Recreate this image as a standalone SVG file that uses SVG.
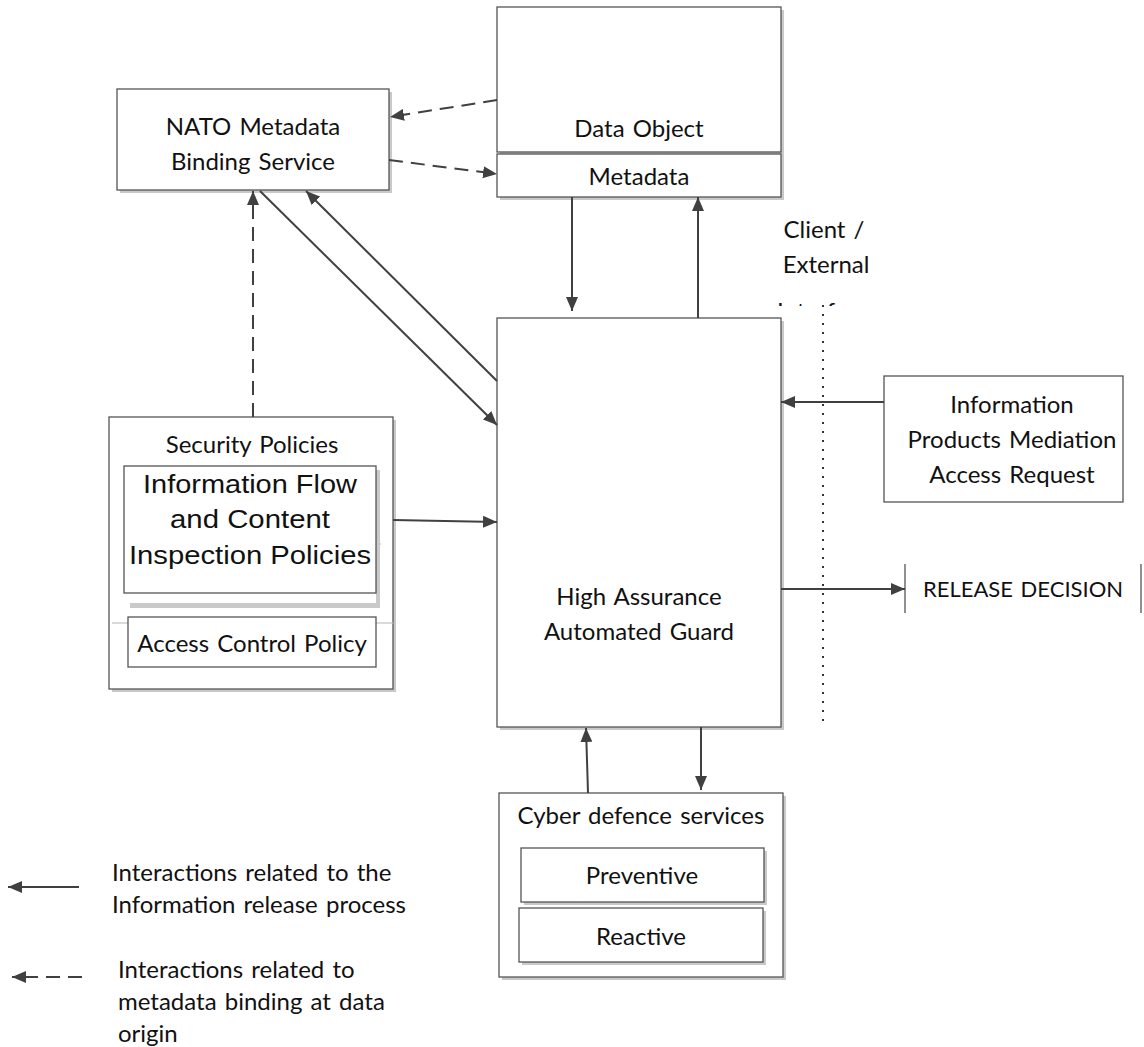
<svg xmlns="http://www.w3.org/2000/svg" width="1144" height="1047" viewBox="0 0 1144 1047">
<style>
.box{fill:#fff;stroke:#555;stroke-width:1.3}
.sh{fill:#c9c9c9;stroke:none}
.t{font-family:Lato,"Open Sans",sans-serif;font-size:24px;word-spacing:2px;fill:#111;text-anchor:middle}
.ta{font-family:"Liberation Sans",Arial,sans-serif;font-size:26px;fill:#111;text-anchor:middle}
.c{fill:none;stroke:#404040;stroke-width:2}
.d{fill:none;stroke:#404040;stroke-width:2;stroke-dasharray:14 8}
</style>
<defs>
<marker id="ah" viewBox="0 0 14 12" refX="14" refY="6" markerWidth="14" markerHeight="12" markerUnits="userSpaceOnUse" orient="auto">
<path d="M0,0 L14,6 L0,12 z" fill="#404040"/>
</marker>
<clipPath id="clipIf"><rect x="760" y="290" width="140" height="16"/></clipPath>
</defs>
<rect width="1144" height="1047" fill="#fff"/>

<g id="nato">
<rect class="sh" x="120" y="92" width="272" height="101"/>
<rect class="box" x="117" y="89" width="272" height="101"/>
<text class="t" x="253" y="135">NATO Metadata</text>
<text class="t" x="253" y="170">Binding Service</text>
</g>

<g id="data-object">
<rect class="sh" x="500" y="10" width="284" height="190"/>
<rect class="box" x="497" y="7" width="284" height="145"/>
<text class="t" x="639" y="137">Data Object</text>
<rect class="box" x="497" y="154" width="284" height="43"/>
<text class="t" x="639" y="185">Metadata</text>
</g>

<g id="guard">
<rect class="sh" x="500" y="321" width="284" height="409"/>
<rect class="box" x="497" y="318" width="284" height="409"/>
<text class="t" x="639" y="605">High Assurance</text>
<text class="t" x="639" y="640">Automated Guard</text>
</g>

<g id="security-policies">
<rect class="sh" x="112" y="420" width="284" height="272"/>
<rect class="box" x="109" y="417" width="284" height="272"/>
<text class="t" x="252" y="453">Security Policies</text>
<rect class="sh" x="130" y="470" width="250" height="138"/>
<rect x="124" y="466" width="252" height="137" fill="#fff"/>
<line x1="376" y1="544" x2="381" y2="544" stroke="#c9c9c9" stroke-width="1.5"/>
<rect class="box" x="124" y="466" width="252" height="127"/>
<text class="ta" x="250" y="493" textLength="214" lengthAdjust="spacingAndGlyphs">Information Flow</text>
<text class="ta" x="250" y="528" textLength="160" lengthAdjust="spacingAndGlyphs">and Content</text>
<text class="ta" x="250" y="564" textLength="242" lengthAdjust="spacingAndGlyphs">Inspection Policies</text>
<line x1="112" y1="623" x2="395" y2="623" stroke="#b5b5b5" stroke-width="1.2"/>
<rect class="box" x="128" y="617" width="248" height="50"/>
<text class="t" x="252" y="652">Access Control Policy</text>
</g>

<g id="access-request">
<rect class="box" x="884" y="376" width="239" height="126"/>
<text class="t" x="1012" y="413">Information</text>
<text class="t" x="1012" y="448">Products Mediation</text>
<text class="t" x="1012" y="483">Access Request</text>
</g>

<g id="release-decision">
<line x1="905" y1="564" x2="905" y2="613" stroke="#555" stroke-width="1.3"/>
<line x1="1141" y1="564" x2="1141" y2="613" stroke="#555" stroke-width="1.3"/>
<text class="t" x="1023" y="597" style="font-size:22px">RELEASE DECISION</text>
</g>

<g id="cyber">
<rect class="sh" x="502" y="796" width="284" height="184"/>
<rect class="box" x="499" y="793" width="284" height="184"/>
<text class="t" x="641" y="824">Cyber defence services</text>
<rect class="sh" x="524" y="851" width="243" height="54"/>
<rect class="box" x="521" y="848" width="243" height="54"/>
<text class="t" x="642" y="884">Preventive</text>
<rect class="sh" x="522" y="911" width="244" height="54"/>
<rect class="box" x="519" y="908" width="244" height="54"/>
<text class="t" x="641" y="945">Reactive</text>
</g>

<g id="boundary">
<line x1="823" y1="305" x2="823" y2="723" stroke="#333" stroke-width="2" stroke-dasharray="2 7"/>
<text class="t" x="824" y="238">Client /</text>
<text class="t" x="826" y="273">External</text>
<text class="t" x="824" y="320" clip-path="url(#clipIf)">Interface</text>
</g>

<g id="connectors">
<path class="d" d="M497,100 L390,117" marker-end="url(#ah)"/>
<path class="d" d="M389,160 L497,174" marker-end="url(#ah)"/>
<path class="d" d="M253,417 L253,191" marker-end="url(#ah)"/>
<path class="c" d="M260,191 L497,425" marker-end="url(#ah)"/>
<path class="c" d="M497,381 L306,191" marker-end="url(#ah)"/>
<path class="c" d="M572,197 L572,311" marker-end="url(#ah)"/>
<path class="c" d="M698,318 L698,197" marker-end="url(#ah)"/>
<path class="c" d="M393,520 L497,522" marker-end="url(#ah)"/>
<path class="c" d="M884,402 L781,402" marker-end="url(#ah)"/>
<path class="c" d="M781,589 L905,589" marker-end="url(#ah)"/>
<path class="c" d="M588,793 L586,728" marker-end="url(#ah)"/>
<path class="c" d="M701,727 L701,790" marker-end="url(#ah)"/>
</g>

<g id="legend">
<path class="c" d="M79,887 L8,887" marker-end="url(#ah)"/>
<text class="t" x="112" y="881" style="text-anchor:start">Interactions related to the</text>
<text class="t" x="112" y="913" style="text-anchor:start">Information release process</text>
<path class="d" d="M82,977 L12,977" marker-end="url(#ah)"/>
<text class="t" x="118" y="978" style="text-anchor:start">Interactions related to</text>
<text class="t" x="118" y="1010" style="text-anchor:start">metadata binding at data</text>
<text class="t" x="118" y="1042" style="text-anchor:start">origin</text>
</g>
</svg>
